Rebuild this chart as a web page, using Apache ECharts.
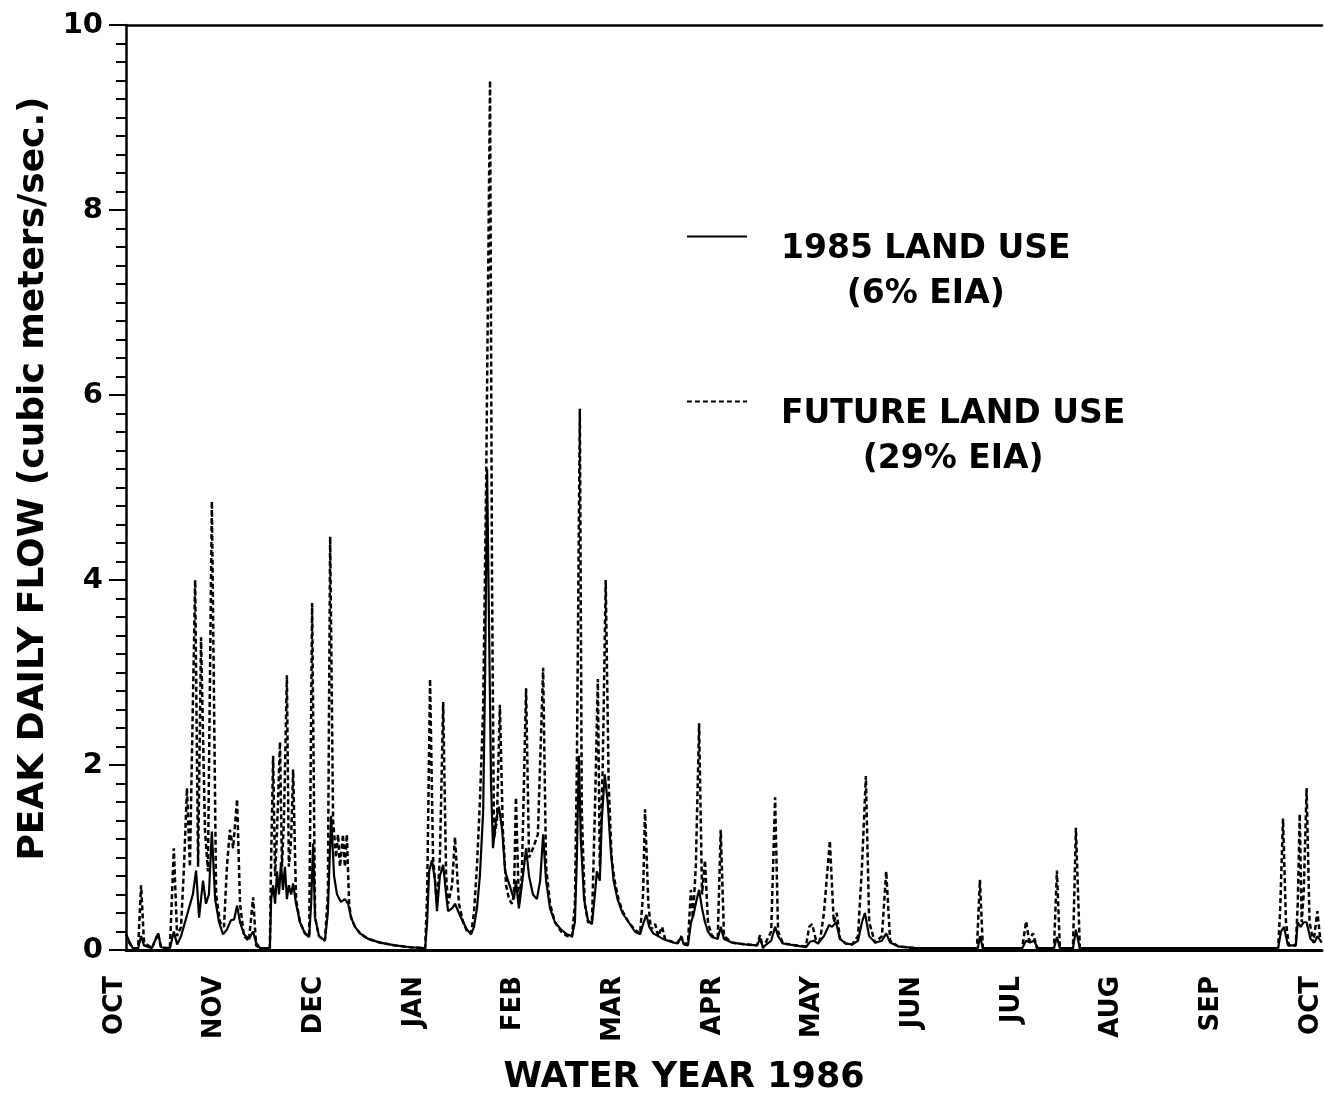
<!DOCTYPE html>
<html><head><meta charset="utf-8">
<script src="https://cdn.jsdelivr.net/npm/echarts@6/dist/echarts.min.js"></script>
<style>html,body{margin:0;padding:0;background:#fff}#c{width:1324px;height:1094px}</style>
</head><body><div id="c"></div>
<script>
// Month labels of the water year (placed at equal twelfths of the year, as in the original)
const monthLabels = ['OCT','NOV','DEC','JAN','FEB','MAR','APR','MAY','JUN','JUL','AUG','SEP','OCT'];
const yTicks = [0, 2, 4, 6, 8, 10];
const seriesNames = ['1985 LAND USE', 'FUTURE LAND USE'];
const legendSub = ['(6% EIA)', '(29% EIA)'];

// [day of water year, peak daily flow m3/s]
const flow1985 = [
[0,0.17],[0.9,0.1],[2.1,0.02],[3.7,0.02],[4.6,0.15],[5.5,0.05],[7.9,0.02],[9.8,0.18],[10.7,0.03],[13.4,0.02],[14.6,0.2],[15.6,0.06],[16.8,0.15],[18.0,0.3],[19.2,0.45],[20.4,0.6],[21.4,0.86],[22.3,0.35],[23.5,0.75],[24.4,0.5],[25.3,0.6],[26.2,1.28],[27.2,0.55],[28.4,0.3],[29.6,0.17],[30.8,0.22],[32.0,0.32],[33.0,0.33],[33.9,0.48],[34.8,0.3],[36.0,0.17],[37.5,0.12],[38.8,0.2],[39.7,0.08],[40.9,0.02],[43.9,0.02],
[44.3,0.55],[44.9,0.7],[45.5,0.5],[46.1,0.85],[46.7,0.6],[47.3,0.95],[47.9,0.65],[48.5,0.9],[49.1,0.55],[49.7,0.7],[50.4,0.6],[51.0,0.72],[51.9,0.5],[53.1,0.3],[54.6,0.18],[55.9,0.14],[56.5,0.5],[57.1,1.15],[57.7,0.35],[58.9,0.15],[60.7,0.1],[61.6,0.4],[62.6,1.45],[63.5,0.8],[64.4,0.6],[65.6,0.52],[66.8,0.55],[67.8,0.5],[68.7,0.35],[69.9,0.25],[71.4,0.18],[73.9,0.12],[77.5,0.08],[82.1,0.05],[86.7,0.03],[91.3,0.02],
[91.9,0.3],[92.5,0.85],[93.4,0.97],[94.3,0.75],[94.9,0.42],[95.8,0.8],[96.8,0.92],[97.7,0.6],[98.3,0.42],[99.5,0.45],[100.4,0.5],[101.6,0.4],[102.9,0.3],[104.1,0.22],[105.3,0.17],[106.2,0.25],[107.1,0.45],[108.0,0.8],[109.0,1.5],[109.6,3.0],[110.2,5.2],[110.8,3.5],[111.4,1.8],[112.0,1.1],[112.9,1.4],[113.8,1.55],[114.8,1.3],[115.7,0.85],[116.6,0.75],[117.5,0.65],[118.4,0.55],[119.0,0.75],[119.9,0.45],[120.8,0.7],[122.1,1.1],[123.0,0.8],[124.2,0.6],[125.4,0.55],[126.4,0.75],[127.3,1.25],[128.2,0.75],[129.4,0.45],[130.9,0.3],[132.8,0.22],[134.6,0.17],[136.1,0.15],
[137.0,0.3],[137.6,1.0],[138.2,2.1],[138.8,1.2],[139.8,0.55],[141.0,0.32],[142.2,0.28],[143.1,0.6],[143.7,0.85],[144.6,0.75],[145.2,1.4],[146.1,1.9],[147.0,1.6],[147.9,1.1],[148.8,0.75],[150.0,0.55],[151.5,0.4],[153.4,0.3],[155.3,0.2],[156.9,0.17],[157.8,0.28],[158.8,0.38],[159.7,0.25],[160.9,0.18],[162.4,0.15],[163.9,0.12],[165.4,0.1],[167.2,0.08],[168.4,0.07],[169.4,0.14],[170.3,0.06],[171.5,0.05],
[172.4,0.29],[173.3,0.4],[174.2,0.55],[174.9,0.65],[175.8,0.45],[176.7,0.3],[177.6,0.2],[178.8,0.14],[180.6,0.12],[181.5,0.25],[182.5,0.12],[184.9,0.08],[188.9,0.06],[192.6,0.05],[193.5,0.12],[194.4,0.03],[196.9,0.1],[198.1,0.25],[199.0,0.15],[200.5,0.07],[204.2,0.05],[207.5,0.03],[208.8,0.09],[210.0,0.1],[211.2,0.07],[213.0,0.15],[214.6,0.27],[215.5,0.25],[216.7,0.3],[217.9,0.12],[219.7,0.07],[221.6,0.06],[223.4,0.1],[224.6,0.3],[225.5,0.4],[226.8,0.15],[228.6,0.08],[230.7,0.1],[232.0,0.18],[233.2,0.08],[235.6,0.04],[240.8,0.02],
[260.0,0.02],[260.6,0.15],[261.5,0.02],[273.5,0.02],[274.7,0.1],[275.9,0.08],[277.1,0.1],[278.3,0.02],[283.2,0.02],[284.1,0.14],[285.0,0.02],[289.0,0.02],[289.9,0.22],[291.1,0.02],[351.6,0.02],[352.5,0.2],[353.4,0.25],[354.6,0.05],[357.0,0.05],[357.6,0.3],[358.5,0.25],[359.4,0.3],[360.3,0.3],[361.5,0.12],[362.7,0.08],[363.6,0.15],[364.9,0.08]
];

const flowFuture = [
[0,0.17],[0.9,0.08],[2.1,0.02],[3.7,0.02],[4.6,0.7],[5.5,0.08],[7.9,0.02],[9.8,0.18],[10.7,0.02],[13.4,0.02],[14.6,1.1],[15.6,0.15],[16.8,0.25],[17.7,0.9],[18.6,1.75],[19.5,0.9],[21.1,4.0],[22.0,0.9],[22.9,3.38],[24.1,1.3],[25.0,0.85],[26.2,4.85],[27.5,0.6],[28.7,0.3],[29.9,0.25],[30.8,0.9],[31.7,1.3],[32.7,1.1],[33.9,1.63],[34.8,0.5],[36.0,0.15],[37.5,0.1],[38.8,0.57],[39.7,0.05],[40.9,0.02],[43.9,0.02],
[44.3,1.0],[44.9,2.1],[45.5,0.8],[46.1,1.3],[47.0,2.25],[47.6,0.9],[48.2,1.4],[49.1,2.97],[49.7,0.9],[50.4,1.2],[51.0,1.95],[51.9,0.55],[53.1,0.3],[54.6,0.18],[55.9,0.15],[56.8,3.75],[57.7,0.35],[58.9,0.15],[60.7,0.1],[61.6,0.6],[62.3,4.47],[63.2,1.4],[64.1,1.0],[64.7,1.25],[65.3,0.9],[66.2,1.25],[66.8,0.9],[67.4,1.25],[68.1,0.5],[68.7,0.35],[69.9,0.25],[71.4,0.18],[73.9,0.12],[77.5,0.08],[82.1,0.05],[86.7,0.03],[91.3,0.02],
[91.9,0.6],[92.8,2.93],[93.7,1.0],[94.9,0.5],[95.8,1.0],[96.8,2.68],[97.7,0.8],[98.3,0.5],[99.5,0.7],[100.4,1.22],[101.6,0.5],[102.9,0.3],[104.1,0.2],[105.3,0.18],[106.2,0.4],[107.1,0.9],[108.0,1.6],[109.0,2.6],[109.9,5.0],[111.1,9.4],[111.7,4.0],[112.3,1.2],[113.2,1.4],[114.1,2.65],[115.0,1.3],[116.0,0.7],[116.9,0.55],[117.8,0.5],[118.4,0.6],[119.0,1.65],[119.9,0.5],[120.8,0.8],[122.1,2.83],[123.0,1.0],[124.2,1.1],[125.7,1.25],[127.3,3.05],[128.2,0.9],[129.4,0.5],[130.9,0.3],[132.8,0.2],[134.6,0.15],[136.1,0.14],
[137.0,0.5],[137.6,2.0],[138.5,5.85],[139.1,1.5],[140.0,0.5],[141.0,0.3],[142.2,0.3],[143.1,1.5],[144.0,2.93],[144.6,0.9],[145.5,2.0],[146.4,4.0],[147.3,1.8],[148.2,1.0],[149.1,0.75],[150.3,0.55],[151.5,0.42],[153.4,0.3],[155.3,0.22],[156.9,0.18],[157.8,0.6],[158.4,1.52],[159.4,0.5],[160.2,0.22],[161.5,0.28],[162.4,0.15],[163.6,0.25],[164.5,0.12],[167.2,0.08],[168.4,0.08],[169.4,0.15],[170.3,0.06],[171.5,0.08],
[172.4,0.65],[173.0,0.35],[173.9,0.9],[174.9,2.45],[175.8,0.6],[176.7,0.97],[177.6,0.3],[178.8,0.15],[180.6,0.14],[181.5,1.3],[182.5,0.15],[184.9,0.08],[188.9,0.06],[192.6,0.05],[193.5,0.16],[194.4,0.02],[196.9,0.2],[198.1,1.65],[199.0,0.2],[200.5,0.07],[204.2,0.05],[207.5,0.04],[208.5,0.25],[209.4,0.28],[210.6,0.1],[211.8,0.1],[213.0,0.4],[214.8,1.18],[216.0,0.3],[216.9,0.4],[217.9,0.12],[219.7,0.07],[221.6,0.06],[223.4,0.15],[224.6,0.9],[225.8,1.88],[226.8,0.3],[228.6,0.08],[230.7,0.15],[232.0,0.85],[233.2,0.1],[235.6,0.04],[240.8,0.02],
[259.7,0.02],[260.6,0.76],[261.5,0.02],[273.5,0.02],[274.7,0.31],[275.6,0.1],[276.8,0.18],[278.0,0.02],[283.2,0.02],[284.1,0.86],[285.0,0.02],[289.0,0.02],[289.9,1.32],[291.1,0.02],[351.6,0.02],[352.2,0.4],[353.1,1.42],[354.0,0.3],[354.9,0.05],[357.0,0.05],[357.6,0.5],[358.2,1.47],[358.8,0.3],[359.4,0.6],[360.3,1.75],[361.2,0.3],[362.4,0.08],[363.6,0.42],[364.5,0.1]
];

const YEAR_DAYS = 365;
const monthStep = YEAR_DAYS / (monthLabels.length - 1);
const labelDays = monthLabels.map((m, i) => i * monthStep);
const FONT = 'DejaVu Sans';

const chart = echarts.init(document.getElementById('c'), null, {renderer: 'canvas'});
chart.setOption({
  animation: false,
  backgroundColor: '#fff',
  grid: {left: 126, right: 2, top: 25, bottom: 144, containLabel: false, outerBoundsMode: 'none'},
  legend: {
    orient: 'vertical', left: 686, top: 156, padding: 0, itemGap: 4,
    itemWidth: 60, itemHeight: 14, selectedMode: false,
    itemStyle: {opacity: 0},
    lineStyle: {width: 2},
    data: seriesNames,
    formatter: function (name) {
      const i = seriesNames.indexOf(name);
      return '{a|' + name + '}\n{a|' + legendSub[i] + '}';
    },
    textStyle: {
      fontFamily: FONT, fontWeight: 'bold', fontSize: 33, lineHeight: 45, color: '#000',
      padding: [71, 0, 0, 29],
      rich: {a: {align: 'center', fontFamily: FONT, fontWeight: 'bold', fontSize: 33, lineHeight: 45, color: '#000'}}
    }
  },
  xAxis: [{
    type: 'value', min: 0, max: YEAR_DAYS, position: 'bottom',
    axisLine: {show: true, onZero: false, lineStyle: {color: '#000', width: 3}},
    axisTick: {show: false}, splitLine: {show: false},
    axisLabel: {
      customValues: labelDays,
      formatter: function (v) { return monthLabels[Math.round(v / monthStep)] + '\n '; },
      rotate: 90, margin: 26, color: '#000', fontFamily: FONT, fontWeight: 'bold', fontSize: 26,
      lineHeight: 22
    },
    name: 'WATER YEAR 1986', nameLocation: 'middle', nameGap: 110,
    nameTextStyle: {fontFamily: FONT, fontWeight: 'bold', fontSize: 35, color: '#000', padding: [0, 80, 0, 0]}
  }, {
    type: 'value', min: 0, max: YEAR_DAYS, position: 'top',
    axisLine: {show: true, onZero: false, lineStyle: {color: '#000', width: 2.5}},
    axisTick: {show: false}, axisLabel: {show: false}, splitLine: {show: false}
  }],
  yAxis: {
    type: 'value', min: yTicks[0], max: yTicks[yTicks.length - 1], interval: yTicks[1] - yTicks[0],
    axisLine: {show: true, onZero: false, lineStyle: {color: '#000', width: 2.5}},
    axisTick: {show: true, inside: false, length: 17, lineStyle: {color: '#000', width: 2}},
    minorTick: {show: true, splitNumber: 10, length: 10, lineStyle: {color: '#000', width: 2}},
    splitLine: {show: false}, minorSplitLine: {show: false},
    axisLabel: {margin: 23, color: '#000', fontFamily: FONT, fontWeight: 'bold', fontSize: 29},
    name: 'PEAK DAILY FLOW (cubic meters/sec.)', nameLocation: 'middle', nameGap: 70,
    nameTextStyle: {fontFamily: FONT, fontWeight: 'bold', fontSize: 36, color: '#000', padding: [0, 0, 0, 18]}
  },
  series: [{
    name: seriesNames[1], type: 'line', data: flowFuture, symbol: 'none', showSymbol: false,
    lineStyle: {color: '#000', width: 2.5, type: [5, 3]}, itemStyle: {color: '#000'}, z: 2
  }, {
    name: seriesNames[0], type: 'line', data: flow1985, symbol: 'none', showSymbol: false,
    lineStyle: {color: '#000', width: 2.2, type: 'solid'}, itemStyle: {color: '#000'}, z: 3
  }]
});
</script>
</body></html>
